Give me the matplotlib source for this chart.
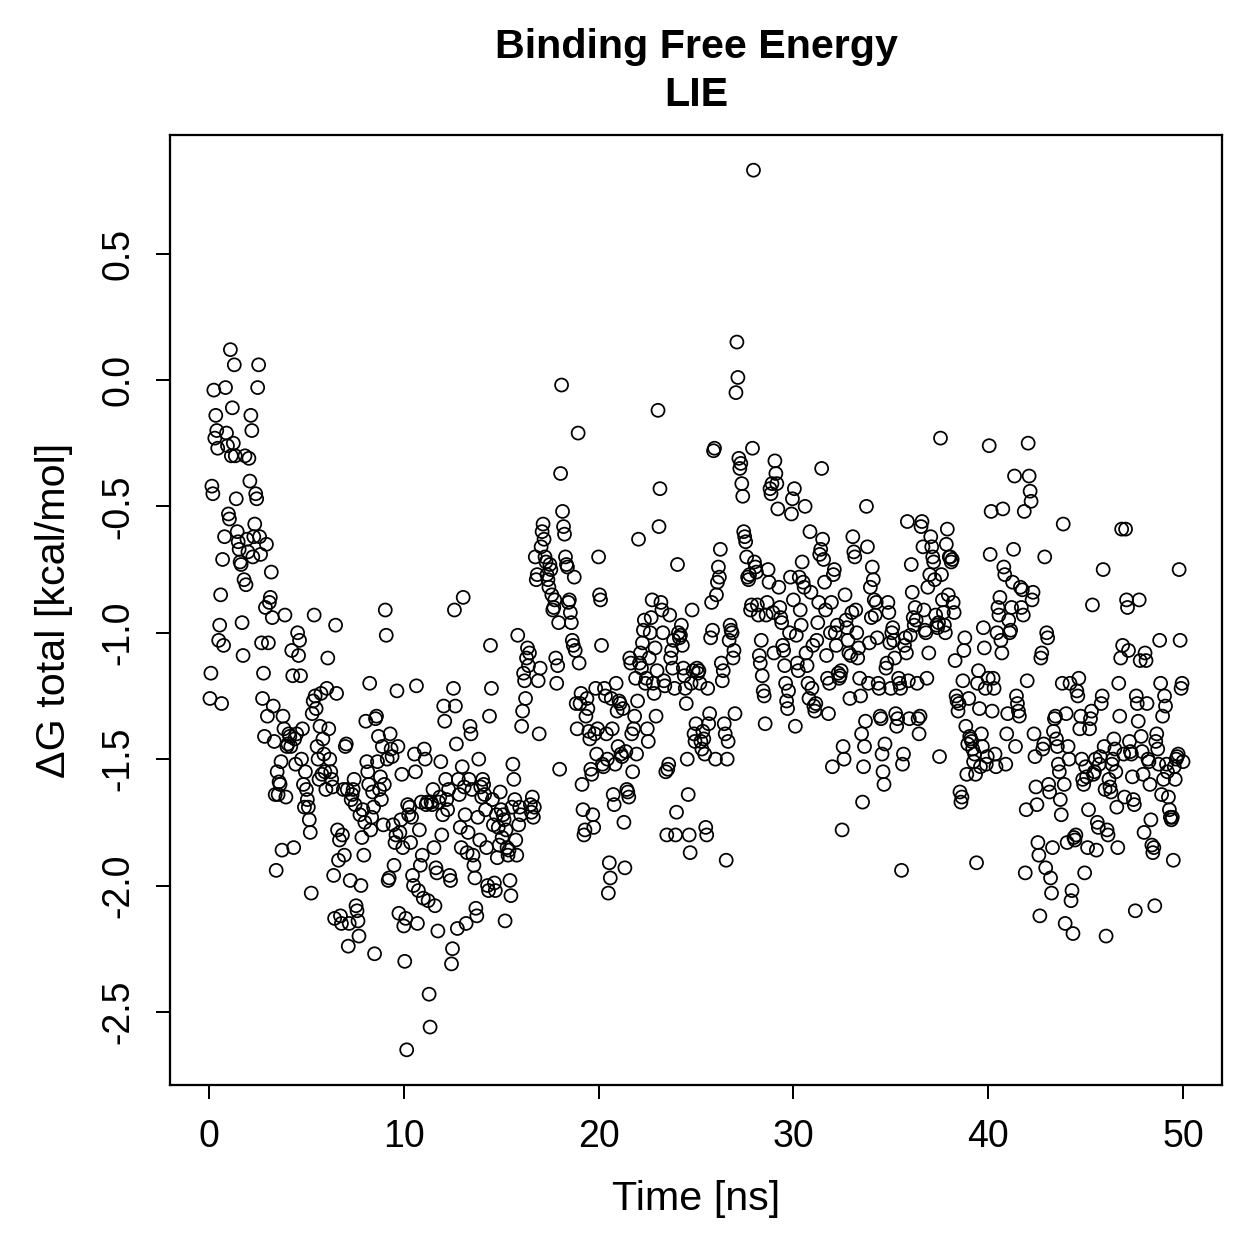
# LIE binding free energy over time, base-R look
import numpy as np
import matplotlib.pyplot as plt

plt.rcParams['font.family'] = ['Liberation Sans', 'DejaVu Sans']

# dG total [kcal/mol], one row per ns, 20 frames per ns
dg_00_05 = [
    [-1.26, -1.16, -0.42, -0.45, -0.04, -0.23, -0.14, -0.20, -0.27, -1.03, -0.97, -0.85, -1.28, -0.71, -1.05, -0.62, -0.03, -0.21, -0.26, -0.53],
    [-0.55, 0.12, -0.30, -0.11, -0.25, 0.06, -0.30, -0.47, -0.60, -0.64, -0.67, -0.72, -0.73, -0.96, -1.09, -0.79, -0.30, -0.81, -0.63, -0.68],
    [-0.31, -0.40, -0.14, -0.20, -0.70, -0.62, -0.57, -0.45, -0.47, -0.03, 0.06, -0.62, -0.69, -1.04, -1.26, -1.16, -1.41, -0.90, -0.65, -1.33],
    [-1.04, -0.88, -0.86, -0.76, -0.94, -1.29, -1.43, -1.64, -1.94, -1.55, -1.64, -1.59, -1.60, -1.51, -1.86, -1.33, -1.38, -0.93, -1.65, -1.45],
    [-1.44, -1.40, -1.41, -1.45, -1.07, -1.17, -1.85, -1.42, -1.52, -1.40, -1.00, -1.09, -1.03, -1.17, -1.50, -1.38, -1.60, -1.69, -1.55, -1.62],
]
dg_05_10 = [
    [-1.66, -1.69, -1.74, -1.79, -2.03, -1.32, -1.27, -0.93, -1.25, -1.30, -1.45, -1.50, -1.58, -1.37, -1.24, -1.56, -1.42, -1.48, -1.55, -1.62],
    [-1.22, -1.10, -1.38, -1.50, -1.55, -1.58, -1.61, -1.96, -2.13, -0.97, -1.24, -1.78, -1.90, -1.82, -2.12, -2.15, -1.80, -1.62, -1.88, -1.45],
    [-1.44, -1.62, -2.24, -2.15, -1.98, -1.66, -1.64, -1.62, -1.58, -1.68, -2.08, -2.10, -2.14, -2.20, -1.72, -2.00, -1.81, -1.70, -1.88, -1.75],
    [-1.35, -1.51, -1.55, -1.60, -1.20, -1.78, -1.73, -1.63, -1.69, -2.27, -1.34, -1.33, -1.51, -1.41, -1.62, -1.57, -1.66, -1.45, -1.76, -1.60],
    [-0.91, -1.01, -1.50, -1.98, -1.97, -1.40, -1.46, -1.49, -1.76, -1.92, -1.83, -1.80, -1.23, -1.45, -2.11, -1.79, -1.74, -1.56, -1.85, -2.16],
]
dg_10_15 = [
    [-2.30, -2.13, -2.65, -1.68, -1.72, -1.69, -1.83, -1.73, -1.96, -2.00, -1.48, -1.55, -1.21, -2.15, -2.02, -1.78, -1.92, -1.67, -1.88, -2.05],
    [-1.46, -1.50, -1.68, -1.67, -2.06, -2.43, -2.56, -1.67, -1.68, -1.62, -1.85, -2.08, -1.93, -1.95, -2.18, -1.67, -1.65, -1.51, -1.80, -1.72],
    [-1.29, -1.35, -1.58, -1.66, -1.70, -1.62, -1.96, -1.98, -2.31, -2.25, -1.22, -0.91, -1.29, -1.44, -2.17, -1.58, -1.64, -1.77, -1.85, -1.53],
    [-0.86, -1.61, -1.72, -2.15, -1.87, -1.79, -1.58, -1.37, -1.40, -1.62, -1.88, -1.92, -1.97, -2.09, -2.12, -1.73, -1.50, -1.82, -1.61, -1.65],
    [-1.58, -1.60, -1.64, -1.70, -1.85, -2.00, -2.02, -1.33, -1.05, -1.22, -1.66, -1.76, -1.99, -2.02, -1.72, -1.89, -1.77, -1.84, -1.63, -1.70],
]
dg_15_20 = [
    [-1.81, -1.72, -1.74, -2.14, -1.78, -1.85, -1.88, -1.86, -1.98, -2.04, -1.69, -1.52, -1.58, -1.66, -1.82, -1.88, -1.01, -1.76, -1.69, -1.72],
    [-1.37, -1.31, -1.16, -1.19, -1.26, -1.10, -1.06, -1.13, -1.08, -1.68, -1.71, -1.65, -1.73, -1.69, -0.70, -0.79, -0.77, -1.19, -1.40, -1.14],
    [-0.66, -0.60, -0.57, -0.63, -0.70, -0.72, -0.77, -0.79, -0.82, -0.73, -0.75, -0.85, -0.91, -0.90, -0.87, -1.10, -1.20, -1.13, -0.96, -1.54],
    [-0.37, -0.02, -0.52, -0.58, -0.61, -0.70, -0.73, -0.74, -0.88, -0.87, -0.92, -0.96, -1.03, -1.05, -0.78, -1.07, -1.28, -1.38, -0.21, -1.12],
    [-1.28, -1.24, -1.60, -1.70, -1.80, -1.78, -1.33, -1.26, -1.30, -1.39, -1.42, -1.54, -1.56, -1.72, -1.77, -1.40, -1.22, -1.48, -1.38, -0.70],
]
dg_20_25 = [
    [-0.85, -0.87, -1.05, -1.52, -1.53, -1.22, -1.25, -1.40, -1.50, -2.03, -1.91, -1.97, -1.26, -1.38, -1.64, -1.68, -1.52, -1.20, -1.31, -1.45],
    [-1.27, -1.28, -1.48, -1.49, -1.30, -1.75, -1.93, -1.47, -1.62, -1.63, -1.65, -1.10, -1.12, -1.40, -1.55, -1.38, -1.33, -1.18, -1.48, -1.27],
    [-0.63, -1.12, -1.08, -1.14, -1.04, -0.99, -0.95, -1.20, -1.18, -1.38, -1.43, -1.10, -1.00, -0.94, -0.87, -1.20, -1.24, -1.06, -1.33, -1.15],
    [-0.12, -0.58, -0.43, -0.88, -0.91, -1.00, -1.19, -1.21, -1.55, -1.80, -1.54, -1.52, -0.93, -1.10, -1.07, -1.14, -1.03, -1.22, -1.80, -1.71],
    [-0.73, -1.00, -1.02, -1.01, -0.97, -1.05, -1.14, -1.17, -1.22, -1.28, -1.50, -1.64, -1.80, -1.87, -1.20, -0.91, -1.15, -1.40, -1.43, -1.36],
]
dg_25_30 = [
    [-1.14, -1.16, -1.15, -1.20, -1.43, -1.46, -1.39, -1.42, -1.48, -1.77, -1.80, -1.22, -1.36, -1.32, -1.02, -0.88, -0.99, -0.28, -0.27, -1.50],
    [-0.85, -0.80, -0.74, -0.78, -0.67, -1.12, -1.19, -1.15, -1.36, -1.40, -1.90, -1.50, -1.43, -1.03, -0.97, -0.99, -1.00, -1.10, -1.07, -1.32],
    [-0.05, 0.15, 0.01, -0.31, -0.35, -0.33, -0.41, -0.46, -0.60, -0.62, -0.64, -0.70, -0.78, -0.79, -0.77, -0.91, -0.89, -0.27, 0.83, -0.72],
    [-0.74, -0.76, -0.89, -0.93, -1.09, -1.12, -1.03, -1.17, -1.23, -1.25, -1.36, -0.93, -0.88, -0.75, -0.80, -0.43, -0.45, -0.41, -0.92, -1.08],
    [-0.32, -0.37, -0.41, -0.51, -0.82, -0.90, -0.94, -0.96, -1.05, -1.07, -1.13, -1.20, -1.27, -1.30, -1.23, -1.00, -0.78, -0.53, -0.47, -0.87],
]
dg_30_35 = [
    [-0.43, -1.37, -1.01, -1.12, -1.15, -0.78, -0.91, -0.97, -0.72, -0.80, -0.82, -0.50, -1.08, -1.13, -1.20, -1.26, -0.60, -0.84, -1.22, -1.05],
    [-1.29, -1.31, -1.28, -1.03, -0.96, -0.88, -0.69, -0.67, -0.35, -0.63, -0.71, -0.80, -0.91, -1.09, -1.18, -1.32, -1.20, -1.00, -0.88, -1.53],
    [-0.77, -0.75, -1.00, -1.05, -0.97, -1.16, -1.18, -1.17, -1.15, -1.78, -1.45, -1.50, -0.85, -0.95, -0.98, -1.03, -1.08, -1.26, -1.09, -0.92],
    [-0.62, -0.68, -0.70, -0.91, -1.00, -1.10, -1.06, -1.18, -1.25, -1.40, -1.67, -1.53, -1.45, -1.35, -0.50, -0.66, -1.20, -1.04, -0.82, -0.94],
    [-0.74, -0.79, -0.87, -0.93, -0.88, -1.02, -1.20, -1.22, -1.33, -1.34, -1.48, -1.55, -1.60, -1.44, -1.14, -1.12, -0.88, -0.92, -1.04, -1.22],
]
dg_35_40 = [
    [-1.00, -0.98, -1.03, -1.10, -1.32, -1.37, -1.34, -1.18, -1.20, -1.22, -1.94, -1.52, -1.48, -1.05, -1.02, -1.08, -0.56, -1.19, -1.34, -1.01],
    [-0.73, -0.84, -0.94, -0.97, -0.90, -0.95, -1.20, -1.34, -1.40, -1.33, -0.58, -0.56, -0.66, -0.91, -0.99, -1.00, -1.18, -0.82, -1.08, -0.77],
    [-0.62, -0.66, -0.70, -0.72, -0.79, -0.93, -0.97, -0.98, -0.96, -1.49, -0.23, -0.77, -0.87, -0.92, -0.97, -1.00, -0.65, -0.59, -0.85, -0.70],
    [-0.70, -0.72, -0.71, -0.88, -0.92, -1.11, -1.25, -1.27, -1.31, -1.28, -1.63, -1.67, -1.65, -1.19, -1.07, -1.02, -1.37, -1.56, -1.44, -1.26],
    [-1.41, -1.42, -1.43, -1.46, -1.51, -1.48, -1.56, -1.91, -1.20, -1.15, -1.30, -1.53, -1.40, -1.45, -0.98, -1.06, -1.22, -1.52, -1.49, -1.18],
]
dg_40_45 = [
    [-0.26, -0.69, -0.52, -1.31, -1.18, -1.22, -1.48, -1.53, -1.00, -0.90, -0.93, -0.86, -1.03, -1.08, -0.51, -0.74, -0.77, -1.52, -1.40, -1.32],
    [-0.95, -1.00, -0.99, -0.90, -0.80, -0.67, -0.38, -1.45, -1.25, -1.28, -1.31, -1.33, -0.82, -0.90, -0.83, -0.93, -0.52, -1.95, -1.70, -1.19],
    [-0.25, -0.38, -0.44, -0.48, -0.87, -0.84, -1.40, -1.49, -1.61, -1.68, -1.83, -1.88, -2.12, -1.10, -1.08, -1.46, -1.44, -0.70, -1.93, -1.00],
    [-1.02, -1.60, -1.63, -1.97, -2.03, -1.85, -1.39, -1.34, -1.33, -1.42, -1.45, -1.52, -1.55, -1.66, -1.72, -1.20, -0.57, -1.60, -2.15, -1.32],
    [-1.83, -1.45, -1.50, -1.20, -2.06, -2.02, -2.19, -1.81, -1.82, -1.80, -1.23, -1.25, -1.18, -1.38, -1.33, -1.50, -1.58, -1.60, -1.95, -1.53],
]
dg_45_50 = [
    [-1.57, -1.85, -1.70, -1.38, -1.34, -1.31, -0.89, -1.56, -1.55, -1.50, -1.86, -1.75, -1.77, -1.52, -1.49, -1.28, -1.25, -0.75, -1.45, -1.62],
    [-2.20, -1.78, -1.80, -1.58, -1.61, -1.63, -1.52, -1.50, -1.42, -1.46, -1.55, -1.69, -1.85, -1.20, -1.33, -1.10, -0.59, -1.05, -1.48, -1.65],
    [-0.59, -0.87, -0.90, -1.07, -1.43, -1.47, -1.48, -1.57, -1.66, -1.68, -2.10, -1.25, -1.28, -1.35, -0.87, -1.11, -1.41, -1.47, -1.56, -1.79],
    [-1.08, -1.11, -1.28, -1.50, -1.51, -1.60, -1.74, -1.84, -1.87, -1.85, -2.08, -1.43, -1.40, -1.46, -1.52, -1.03, -1.20, -1.64, -1.33, -1.58],
    [-1.25, -1.29, -1.52, -1.55, -1.65, -1.70, -1.73, -1.74, -1.73, -1.90, -1.53, -1.58, -1.50, -1.49, -1.48, -0.75, -1.03, -1.22, -1.20, -1.51],
]

rows = dg_00_05 + dg_05_10 + dg_10_15 + dg_15_20 + dg_20_25 + \
       dg_25_30 + dg_30_35 + dg_35_40 + dg_40_45 + dg_45_50

# frames every 0.05 ns inside each 1 ns row
time = np.concatenate([k + np.arange(1, len(r) + 1) / len(r) for k, r in enumerate(rows)])
dg = np.concatenate([np.array(r) for r in rows])

fig = plt.figure(figsize=(1259 / 180, 1259 / 180), dpi=180)
ax = fig.add_axes([170 / 1259, 1 - 1085 / 1259, (1222 - 170) / 1259, (1085 - 135) / 1259])

ax.scatter(time, dg, s=27, facecolors='none', edgecolors='black', linewidths=0.7)

# R-style 4% padding
ax.set_xlim(-2, 52)
yr = dg.max() - dg.min()
ax.set_ylim(dg.min() - 0.04 * yr, dg.max() + 0.04 * yr)

ax.set_xticks([0, 10, 20, 30, 40, 50])
ax.set_yticks([-2.5, -2.0, -1.5, -1.0, -0.5, 0.0, 0.5])
ax.set_yticklabels(['-2.5', '-2.0', '-1.5', '-1.0', '-0.5', '0.0', '0.5'])
ax.tick_params(axis='both', direction='out', length=5.5, width=0.8, labelsize=15, pad=8)
ax.tick_params(axis='y', labelrotation=90)
for lab in ax.get_yticklabels():
    lab.set_va('center')

for sp in ax.spines.values():
    sp.set_linewidth(0.9)

ax.set_xlabel('Time [ns]', fontsize=16.5, labelpad=10)
ax.set_ylabel('ΔG total [kcal/mol]', fontsize=16.5, labelpad=11)

# two-line bold title, centred over the plot box
cx = (170 + 1222) / 2 / 1259
fig.text(cx, 1 - 47 / 1259, 'Binding Free Energy', ha='center', va='center',
         fontsize=16.5, fontweight='bold')
fig.text(cx, 1 - 95 / 1259, 'LIE', ha='center', va='center',
         fontsize=16.5, fontweight='bold')

fig.savefig('out.png', dpi=180)
